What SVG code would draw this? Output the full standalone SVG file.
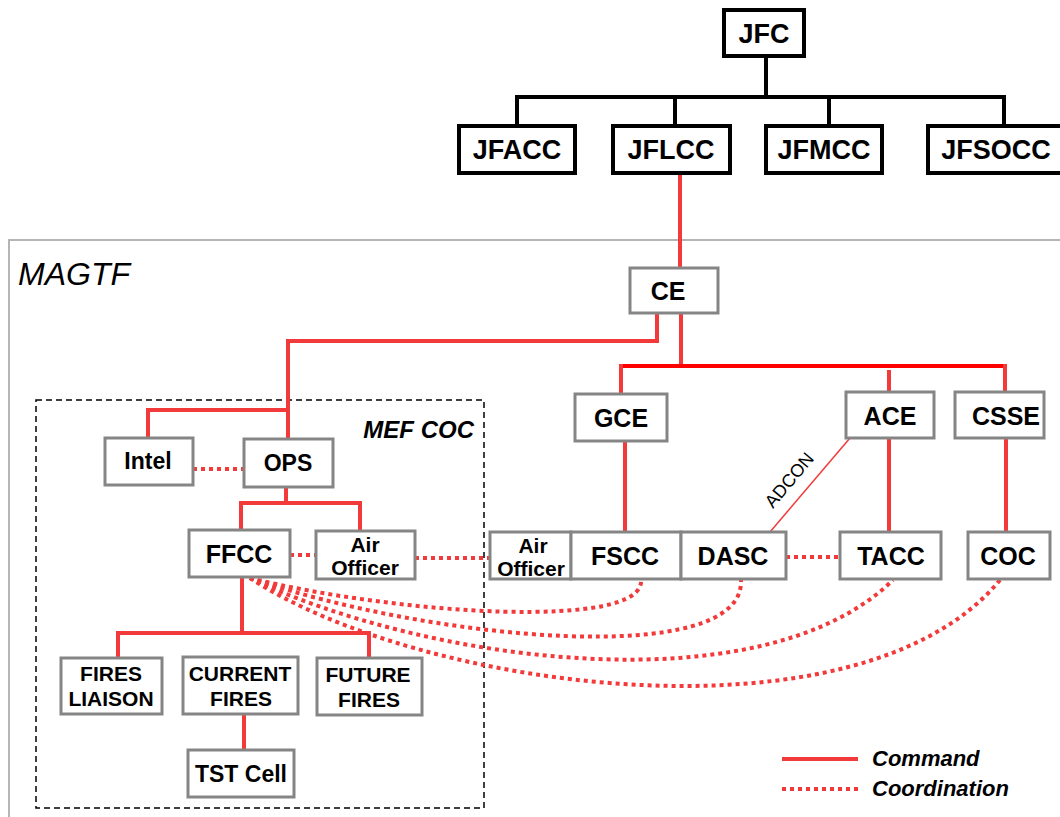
<svg xmlns="http://www.w3.org/2000/svg" width="1060" height="817" viewBox="0 0 1060 817">
  <style>
    .bk { fill: #fff; stroke: #000; stroke-width: 4; }
    .gb { fill: #fff; stroke: #858585; stroke-width: 3; }
    .t { font-family: "Liberation Sans", Arial, sans-serif; font-weight: bold; fill: #000; text-anchor: middle; }
    .cmd { fill: none; stroke: #f23a3a; stroke-width: 4; }
    .crd { fill: none; stroke: #f23a3a; stroke-width: 4; stroke-dasharray: 4 4; }
    .blk { fill: none; stroke: #000; stroke-width: 4; }
  </style>

  <rect width="1060" height="817" fill="#fff"/>

  <!-- MAGTF boundary -->
  <g id="magtf">
    <rect x="9" y="240" width="1080" height="600" fill="none" stroke="#b5b5b5" stroke-width="2"/>
    <text x="18" y="285" font-family="Liberation Sans, Arial, sans-serif" font-style="italic" font-size="32" fill="#000">MAGTF</text>
  </g>

  <!-- MEF COC boundary -->
  <g id="mef-coc">
    <rect x="36" y="400" width="448" height="408" fill="none" stroke="#000" stroke-width="1.5" stroke-dasharray="6 4"/>
    <text x="474" y="438" font-family="Liberation Sans, Arial, sans-serif" font-style="italic" font-weight="bold" font-size="24" text-anchor="end" fill="#000">MEF COC</text>
  </g>

  <!-- connectors -->
  <g id="connectors">
    <!-- joint command tree -->
    <path class="blk" d="M766,56 V97 M517,97 H1004 M517,95 V126 M675,97 V126 M829,97 V126 M1004,95 V126"/>
    <!-- command lines -->
    <path class="cmd" d="M680,173 V268"/>
    <path class="cmd" d="M657,313 V341 H288 V439"/>
    <path class="cmd" d="M681,313 V366"/>
    <path d="M621,366 H1005" fill="none" stroke="#ff0000" stroke-width="4"/>
    <path class="cmd" d="M621,364 V394 M889,370 V392 M1005,364 V392"/>
    <path class="cmd" d="M288,410 H148 V438"/>
    <path class="cmd" d="M286,487 V503 M241,503 H360 M241,501 V530 M360,501 V531"/>
    <path class="cmd" d="M625,441 V532 M889,438 V532 M1006,438 V532"/>
    <path class="cmd" d="M242,577 V633 M118,633 H369 M118,631 V658 M369,631 V658 M244,714 V750"/>
    <!-- ADCON -->
    <path d="M850,438 L770,532" fill="none" stroke="#f23a3a" stroke-width="1.5"/>
    <text x="794" y="484" transform="rotate(-50 794 484)" font-family="Liberation Sans, Arial, sans-serif" font-size="18" text-anchor="middle" fill="#000">ADCON</text>
    <!-- coordination lines -->
    <path class="crd" d="M193,469 H244"/>
    <path class="crd" d="M290,555 H316"/>
    <path class="crd" d="M415,558 H490"/>
    <path class="crd" d="M786,557 H840"/>
    <path class="crd" d="M250,578 C400,615 645,630 641,580"/>
    <path class="crd" d="M250,578 C430,640 745,670 741,580"/>
    <path class="crd" d="M250,578 C420,660 760,710 893,580"/>
    <path class="crd" d="M250,578 C420,690 860,750 1000,580"/>
  </g>

  <!-- joint nodes -->
  <g id="jfc"><rect class="bk" x="724" y="10" width="80" height="46"/><text class="t" x="764" y="43" font-size="27">JFC</text></g>
  <g id="jfacc"><rect class="bk" x="459" y="126" width="116" height="47"/><text class="t" x="517" y="159" font-size="27">JFACC</text></g>
  <g id="jflcc"><rect class="bk" x="613" y="126" width="117" height="47"/><text class="t" x="671" y="159" font-size="27">JFLCC</text></g>
  <g id="jfmcc"><rect class="bk" x="766" y="126" width="116" height="47"/><text class="t" x="824" y="159" font-size="27">JFMCC</text></g>
  <g id="jfsocc"><rect class="bk" x="928" y="126" width="136" height="47"/><text class="t" x="996" y="159" font-size="27">JFSOCC</text></g>

  <!-- MAGTF nodes -->
  <g id="ce"><rect class="gb" x="630" y="268" width="88" height="45"/><text class="t" x="668" y="300" font-size="25">CE</text></g>
  <g id="gce"><rect class="gb" x="575" y="394" width="92" height="47"/><text class="t" x="621" y="427" font-size="25">GCE</text></g>
  <g id="ace"><rect class="gb" x="846" y="392" width="88" height="46"/><text class="t" x="890" y="425" font-size="25">ACE</text></g>
  <g id="csse"><rect class="gb" x="955" y="392" width="89" height="46"/><text class="t" x="1006" y="425" font-size="25">CSSE</text></g>

  <g id="intel"><rect class="gb" x="105" y="438" width="88" height="47"/><text class="t" x="148" y="469" font-size="23">Intel</text></g>
  <g id="ops"><rect class="gb" x="244" y="439" width="89" height="48"/><text class="t" x="288" y="471" font-size="23">OPS</text></g>
  <g id="ffcc"><rect class="gb" x="189" y="530" width="101" height="47"/><text class="t" x="239" y="563" font-size="25">FFCC</text></g>
  <g id="air-officer-coc"><rect class="gb" x="316" y="531" width="99" height="48"/><text class="t" x="365" y="552" font-size="21">Air</text><text class="t" x="365" y="575" font-size="21">Officer</text></g>

  <g id="air-officer-gce"><rect class="gb" x="490" y="532" width="81" height="47"/><text class="t" x="533" y="553" font-size="21">Air</text><text class="t" x="531" y="576" font-size="21">Officer</text></g>
  <g id="fscc"><rect class="gb" x="571" y="532" width="110" height="47"/><text class="t" x="625" y="565" font-size="25">FSCC</text></g>
  <g id="dasc"><rect class="gb" x="681" y="532" width="105" height="47"/><text class="t" x="733" y="565" font-size="25">DASC</text></g>
  <g id="tacc"><rect class="gb" x="840" y="532" width="101" height="47"/><text class="t" x="891" y="565" font-size="25">TACC</text></g>
  <g id="coc"><rect class="gb" x="968" y="532" width="82" height="47"/><text class="t" x="1008" y="565" font-size="25">COC</text></g>

  <g id="fires-liaison"><rect class="gb" x="61" y="658" width="101" height="56"/><text class="t" x="111" y="681" font-size="21">FIRES</text><text class="t" x="111" y="706" font-size="21">LIAISON</text></g>
  <g id="current-fires"><rect class="gb" x="183" y="657" width="115" height="57"/><text class="t" x="240" y="681" font-size="21">CURRENT</text><text class="t" x="241" y="706" font-size="21">FIRES</text></g>
  <g id="future-fires"><rect class="gb" x="317" y="658" width="105" height="57"/><text class="t" x="368" y="682" font-size="21">FUTURE</text><text class="t" x="369" y="707" font-size="21">FIRES</text></g>
  <g id="tst-cell"><rect class="gb" x="188" y="750" width="106" height="47"/><text class="t" x="241" y="782" font-size="23">TST Cell</text></g>

  <!-- legend -->
  <g id="legend">
    <path class="cmd" d="M782,759 H858"/>
    <path class="crd" d="M782,789 H858"/>
    <text x="872" y="766" font-family="Liberation Sans, Arial, sans-serif" font-style="italic" font-weight="bold" font-size="22" fill="#000">Command</text>
    <text x="872" y="796" font-family="Liberation Sans, Arial, sans-serif" font-style="italic" font-weight="bold" font-size="22" fill="#000">Coordination</text>
  </g>
</svg>
